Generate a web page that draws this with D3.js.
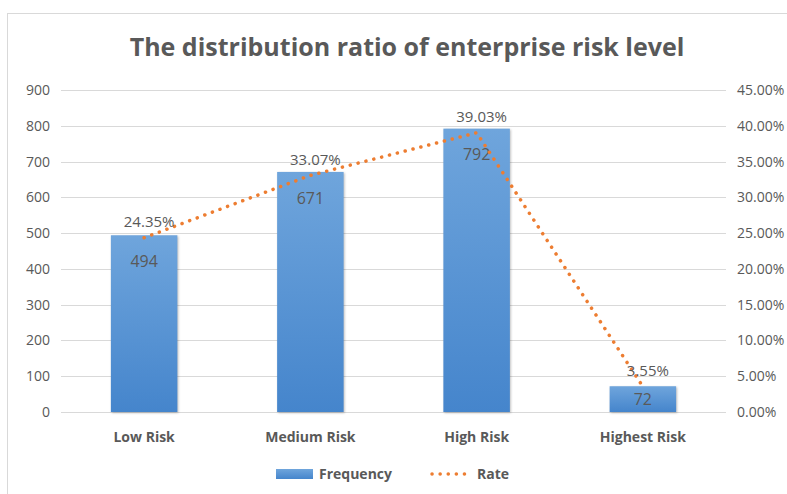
<!DOCTYPE html>
<html>
<head>
<meta charset="utf-8">
<script src="https://cdn.jsdelivr.net/npm/d3@7"></script>
<style>
  body { margin: 0; background: #fff; }
  text { font-family: "Open Sans", "Liberation Sans", sans-serif; fill: #595959; }
</style>
</head>
<body>
<div id="chart"></div>
<script>
// chart data
const categories = ["Low Risk", "Medium Risk", "High Risk", "Highest Risk"];
const frequency = [494, 671, 792, 72];
const rate = [24.35, 33.07, 39.03, 3.55];
const leftTicks = [0, 100, 200, 300, 400, 500, 600, 700, 800, 900];
const rightTicks = [0, 5, 10, 15, 20, 25, 30, 35, 40, 45];

const W = 787, H = 494;
const PLOT = {left: 61, right: 726, top: 90, bottom: 412};

const svg = d3.select("#chart").append("svg")
  .attr("width", W).attr("height", H);

// outer chart border
svg.append("rect")
  .attr("x", 7.5).attr("y", 13.5)
  .attr("width", W + 10).attr("height", H + 10)
  .attr("fill", "#fff").attr("stroke", "#d9d9d9");

const defs = svg.append("defs");
const grad = defs.append("linearGradient").attr("id", "barGrad")
  .attr("x1", 0).attr("y1", 0).attr("x2", 0).attr("y2", 1);
grad.append("stop").attr("offset", "0%").attr("stop-color", "#6fa5dc");
grad.append("stop").attr("offset", "100%").attr("stop-color", "#4585cc");

const X = d3.scaleBand().domain(categories)
  .range([PLOT.left, PLOT.right]).paddingInner(0.6).paddingOuter(0.3);
const Y = d3.scaleLinear().domain([0, 900]).range([PLOT.bottom, PLOT.top]);
const Y2 = d3.scaleLinear().domain([0, 45]).range([PLOT.bottom, PLOT.top]);

// gridlines
svg.append("g").selectAll("line").data(leftTicks).join("line")
  .attr("x1", PLOT.left).attr("x2", PLOT.right)
  .attr("y1", d => Math.round(Y(d)) + 0.5).attr("y2", d => Math.round(Y(d)) + 0.5)
  .attr("stroke", "#d9d9d9");

// left axis
const yAxis = svg.append("g")
  .attr("transform", "translate(" + (PLOT.left - 11) + ",0)")
  .call(d3.axisLeft(Y).tickValues(leftTicks).tickSize(0).tickPadding(0));
yAxis.select(".domain").remove();
yAxis.selectAll("text").style("font-size", "14px").attr("fill", "#595959");

// right axis
const y2Axis = svg.append("g")
  .attr("transform", "translate(" + (PLOT.right + 11) + ",0)")
  .call(d3.axisRight(Y2).tickValues(rightTicks).tickSize(0).tickPadding(0)
    .tickFormat(d => d.toFixed(2) + "%"));
y2Axis.select(".domain").remove();
y2Axis.selectAll("text").style("font-size", "14px").attr("fill", "#595959");

// bars
svg.append("g").selectAll("rect").data(frequency).join("rect")
  .attr("x", (d, i) => X(categories[i]))
  .attr("y", d => Y(d))
  .attr("width", X.bandwidth())
  .attr("height", d => Y(0) - Y(d))
  .attr("fill", "url(#barGrad)")
  .style("filter", "drop-shadow(1px 1px 1px rgba(0,0,0,0.25))");

// bar value labels
svg.append("g").selectAll("text").data(frequency).join("text")
  .attr("x", (d, i) => X(categories[i]) + X.bandwidth() / 2)
  .attr("y", d => Math.min(Y(d) + 26, (Y(d) + Y(0)) / 2))
  .attr("dy", "0.35em")
  .attr("text-anchor", "middle")
  .style("font-size", "16px").attr("fill", "#404040")
  .text(d => d);

// rate line
const cx = i => X(categories[i]) + X.bandwidth() / 2;
const line = d3.line().x((d, i) => cx(i)).y(d => Y2(d));
svg.append("path").datum(rate)
  .attr("d", line)
  .attr("fill", "none")
  .attr("stroke", "#ed7d31")
  .attr("stroke-width", 3.5)
  .attr("stroke-linecap", "round")
  .attr("stroke-dasharray", "0.1 8");

// rate labels
svg.append("g").selectAll("text").data(rate).join("text")
  .attr("x", (d, i) => cx(i) + 5)
  .attr("y", d => Y2(d) - 16)
  .attr("dy", "0.35em")
  .attr("text-anchor", "middle")
  .style("font-size", "15px").attr("fill", "#404040")
  .text(d => d.toFixed(2) + "%");

// category labels
svg.append("g").selectAll("text").data(categories).join("text")
  .attr("x", (d, i) => cx(i))
  .attr("y", 437)
  .attr("dy", "0.35em")
  .attr("text-anchor", "middle")
  .style("font-size", "14px").style("font-weight", "bold")
  .text(d => d);

// title
svg.append("text")
  .attr("x", 407).attr("y", 47)
  .attr("dy", "0.35em")
  .attr("text-anchor", "middle")
  .style("font-size", "25px").style("font-weight", "bold")
  .text("The distribution ratio of enterprise risk level");

// legend
const lg = svg.append("g");
lg.append("rect").attr("x", 276).attr("y", 469).attr("width", 37).attr("height", 10)
  .attr("fill", "url(#barGrad)");
lg.append("text").attr("x", 319).attr("y", 474).attr("dy", "0.35em")
  .style("font-size", "14px").style("font-weight", "bold").text("Frequency");
lg.append("line").attr("x1", 432).attr("x2", 469).attr("y1", 474).attr("y2", 474)
  .attr("stroke", "#ed7d31").attr("stroke-width", 3.5)
  .attr("stroke-linecap", "round").attr("stroke-dasharray", "0.1 8");
lg.append("text").attr("x", 477).attr("y", 474).attr("dy", "0.35em")
  .style("font-size", "14px").style("font-weight", "bold").text("Rate");
</script>
</body>
</html>
